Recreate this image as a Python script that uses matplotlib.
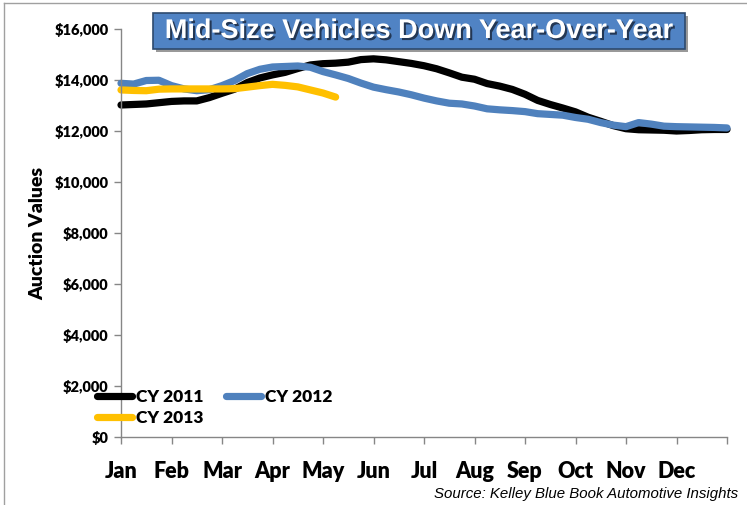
import matplotlib
matplotlib.use("Agg")
import matplotlib.pyplot as plt
import matplotlib.patheffects as pe
from matplotlib.patches import FancyBboxPatch
from matplotlib.lines import Line2D
import numpy as np

months = ["Jan", "Feb", "Mar", "Apr", "May", "Jun", "Jul", "Aug", "Sep", "Oct", "Nov", "Dec"]
# values sampled every quarter month starting Jan 1
cy2011 = [13020, 13040, 13060, 13110, 13160, 13180, 13180, 13310, 13480, 13640,
          13900, 14080, 14200, 14300, 14450, 14590, 14640, 14660, 14700, 14800,
          14830, 14790, 14720, 14650, 14560, 14440, 14280, 14110, 14030, 13860,
          13760, 13630, 13440, 13200, 13040, 12900, 12750, 12540, 12380, 12210,
          12090, 12050, 12040, 12030, 12000, 12020, 12050, 12060, 12060]
cy2012 = [13870, 13840, 13980, 13990, 13780, 13650, 13580, 13620, 13780, 13980,
          14250, 14420, 14510, 14530, 14550, 14500, 14330, 14200, 14060, 13880,
          13720, 13620, 13530, 13420, 13290, 13180, 13090, 13060, 12980, 12870,
          12830, 12800, 12760, 12680, 12650, 12620, 12530, 12460, 12330, 12230,
          12170, 12330, 12270, 12190, 12170, 12160, 12150, 12140, 12120]
cy2013 = [13610, 13590, 13580, 13640, 13650, 13650, 13650, 13650, 13650, 13660,
          13720, 13780, 13830, 13790, 13730, 13610, 13490, 13330]
series_labels = ["CY 2011", "CY 2012", "CY 2013"]
colors = ["#000000", "#4F81BD", "#FFC000"]

W, H = 747, 505
fig = plt.figure(figsize=(W / 100, H / 100), dpi=100)
ax = fig.add_axes([121 / W, 1 - 437 / H, (727 - 121) / W, (437 - 29) / H])

LAT = ["Lato", "DejaVu Sans"]
WT = "heavy"
lines = []
for vals, c, lab in zip([cy2011, cy2012, cy2013], colors, series_labels):
    x = np.arange(len(vals)) / 4.0
    ln, = ax.plot(x, vals, color=c, lw=5.2, solid_capstyle="round",
                  solid_joinstyle="round", label=lab, clip_on=False)
    lines.append(ln)

ax.set_xlim(0, 12)
ax.set_ylim(0, 16000)
ax.set_yticks(np.arange(0, 16001, 2000))
ax.set_yticklabels([f"${v:,.0f}" for v in np.arange(0, 16001, 2000)],
                   fontfamily=LAT, fontweight=WT, fontsize=10.5)
ax.set_xticks(np.arange(0, 13))
ax.set_xticklabels(months + [""], fontfamily=LAT, fontweight=WT, fontsize=15.5)
ax.tick_params(axis="both", color="#868686", length=5, width=1)
ax.tick_params(axis="x", pad=12)
ax.tick_params(axis="y", pad=4)
for s in ["top", "right"]:
    ax.spines[s].set_visible(False)
for s in ["left", "bottom"]:
    ax.spines[s].set_color("#868686")
    ax.spines[s].set_linewidth(1)
ax.set_ylabel("Auction Values", fontfamily=LAT, fontweight=WT, fontsize=14, labelpad=6)

# legend: row-wise order 2011, 2012 / 2013
handles = [Line2D([0], [0], color=c, lw=5.2, solid_capstyle="round") for c in colors]
order = [0, 2, 1]
leg = fig.legend([handles[i] for i in order], [series_labels[i] for i in order],
                 ncol=2, loc="upper left", bbox_to_anchor=(97 / W, 1 - 389 / H),
                 frameon=False, prop={"family": LAT, "weight": WT, "size": 12.5},
                 handlelength=2.0, handletextpad=0.25, columnspacing=1.3,
                 labelspacing=0.3, borderaxespad=0, borderpad=0)

# title box
box = FancyBboxPatch((153 / W, 1 - 49 / H), (685 - 153) / W, 36 / H,
                     boxstyle="square,pad=0", transform=fig.transFigure,
                     facecolor="#5083C4", edgecolor="#2E4A6E", lw=1.2,
                     path_effects=[pe.SimplePatchShadow(offset=(2, -2), shadow_rgbFace="#555555", alpha=0.6),
                                   pe.Normal()])
fig.add_artist(box)
fig.text((153 + 685) / 2 / W, 1 - 31 / H, "Mid-Size Vehicles Down Year-Over-Year",
         ha="center", va="center", color="white", fontsize=19.5, fontweight="bold",
         fontfamily=["Liberation Sans", "DejaVu Sans"],
         path_effects=[pe.withSimplePatchShadow(offset=(1.5, -1.5), shadow_rgbFace="#1F2F48", alpha=0.9)])

fig.text(738 / W, 1 - 494 / H, "Source: Kelley Blue Book Automotive Insights",
         ha="right", va="center", fontsize=10.8, style="italic",
         fontfamily=["Liberation Sans", "DejaVu Sans"], color="#000000")

# outer border (top & left)
fig.add_artist(Line2D([4 / W, 4 / W], [0, 1 - 3 / H], transform=fig.transFigure, color="#A0A0A0", lw=1))
fig.add_artist(Line2D([4 / W, 1], [1 - 3 / H, 1 - 3 / H], transform=fig.transFigure, color="#A0A0A0", lw=1))

fig.savefig("out.png", dpi=100)
